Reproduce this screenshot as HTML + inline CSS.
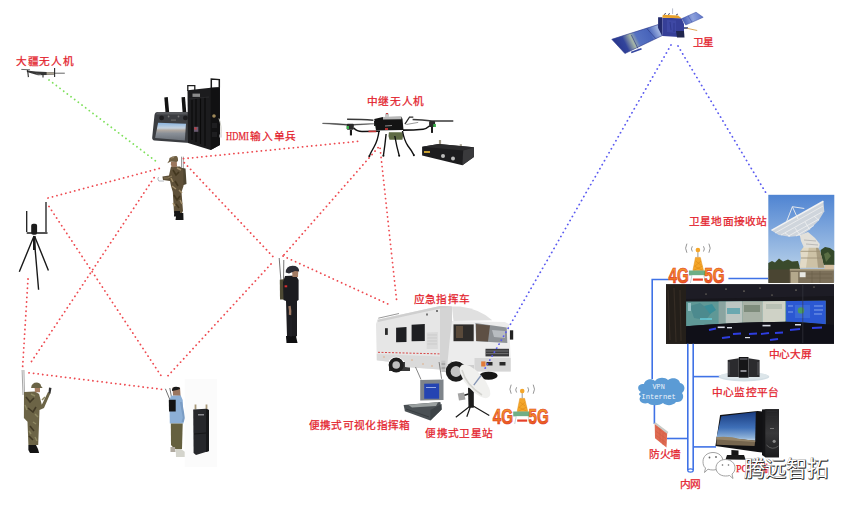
<!DOCTYPE html>
<html lang="zh-CN">
<head>
<meta charset="utf-8">
<style>
html,body{margin:0;padding:0;background:#fff;}
body{width:855px;height:505px;overflow:hidden;position:relative;font-family:"Liberation Serif",serif;}
svg{position:absolute;left:0;top:0;}
.t{position:absolute;color:#e3232d;font-size:11.3px;line-height:12px;white-space:nowrap;font-family:"Liberation Serif",serif;-webkit-text-stroke:0.25px #e3232d;}
</style>
</head>
<body>
<svg width="855" height="505" viewBox="0 0 855 505">
<defs>
 <linearGradient id="sky" x1="0" y1="0" x2="0" y2="1">
  <stop offset="0" stop-color="#4f84d2"/>
  <stop offset="0.75" stop-color="#a9c6e6"/>
  <stop offset="1" stop-color="#c0d4ea"/>
 </linearGradient>
 <linearGradient id="pcsky" x1="0" y1="0" x2="0" y2="1">
  <stop offset="0" stop-color="#1a3c80"/>
  <stop offset="0.55" stop-color="#3f70b8"/>
  <stop offset="0.9" stop-color="#8fb2d8"/>
  <stop offset="1" stop-color="#c4d6e6"/>
 </linearGradient>
 <linearGradient id="g45grad" x1="0" y1="0" x2="0" y2="1">
  <stop offset="0" stop-color="#f5a030"/>
  <stop offset="0.5" stop-color="#f08426"/>
  <stop offset="1" stop-color="#e2381c"/>
 </linearGradient>

<!-- 4G/5G icon definition -->
<g id="g45">
 <g fill="none" stroke="#8a8a8a" stroke-width="0.9" stroke-linecap="round">
  <path d="M-11.2 -23.2 Q-13.6 -19 -11.2 -14.8"/>
  <path d="M-5.8 -20.6 Q-7.4 -18.3 -5.8 -16"/>
  <path d="M5.8 -20.6 Q7.4 -18.3 5.8 -16"/>
  <path d="M11.2 -23.2 Q13.6 -19 11.2 -14.8"/>
 </g>
 <path d="M0 -15 L0 -10" stroke="#8a8a8a" stroke-width="0.9"/>
 <circle cx="0" cy="-17.1" r="2.3" fill="#f4a62a"/>
 <path d="M-2.4 -9.8 L2.4 -9.8 L5.6 3.3 L-5 3.3 Z" fill="#f4a62a" stroke="#e08a10" stroke-width="0.5"/>
 <path d="M-2 -6 L3 -2 M3 -6 L-3 -1 M-3.5 -1 L4.5 3 M4.5 -1 L-4 3" stroke="#d98410" stroke-width="0.5"/>
 <rect x="-9" y="3.3" width="16.2" height="4.9" fill="#6fae86"/>
 <rect x="-6" y="8.2" width="12" height="7.6" fill="#fff"/>
 <rect x="-5" y="11.3" width="10" height="2.2" fill="#e5402a"/>
 <path d="M-6 8.2 L-7.5 15.8 M6 8.2 L7.5 15.8" stroke="#9aa0b0" stroke-width="0.5"/>
 <g font-family="Liberation Sans" font-weight="bold" font-size="22.4" fill="url(#g45grad)" stroke="#e0341c" stroke-width="0.7">
  <text transform="translate(-29.4 16.2) scale(0.68 1)">4G</text>
  <text transform="translate(6.4 16.2) scale(0.68 1)">5G</text>
 </g>
</g>
 <linearGradient id="panelL" x1="612" y1="42" x2="662" y2="17.7" gradientUnits="userSpaceOnUse">
  <stop offset="0" stop-color="#26338a"/>
  <stop offset="0.2" stop-color="#33459c"/>
  <stop offset="0.34" stop-color="#a6b6a6"/>
  <stop offset="0.44" stop-color="#5672c2"/>
  <stop offset="0.68" stop-color="#4864ba"/>
  <stop offset="0.84" stop-color="#9cb0de"/>
  <stop offset="1" stop-color="#6a86d0"/>
 </linearGradient>
 <linearGradient id="panelR" x1="682" y1="20" x2="703" y2="14" gradientUnits="userSpaceOnUse">
  <stop offset="0" stop-color="#4258b4"/>
  <stop offset="0.5" stop-color="#8ea2dc"/>
  <stop offset="1" stop-color="#5a72c8"/>
 </linearGradient>
 <linearGradient id="ctrlscr" x1="0" y1="0" x2="0" y2="1">
  <stop offset="0" stop-color="#8ab4e0"/>
  <stop offset="0.3" stop-color="#c4d2e0"/>
  <stop offset="0.42" stop-color="#b0a8a0"/>
  <stop offset="0.6" stop-color="#8a9098"/>
  <stop offset="1" stop-color="#6a7078"/>
 </linearGradient>
 <linearGradient id="tower" x1="0" y1="0" x2="0" y2="1">
  <stop offset="0" stop-color="#222224"/>
  <stop offset="0.5" stop-color="#38383a"/>
  <stop offset="1" stop-color="#1c1c1e"/>
 </linearGradient>
</defs>

<!-- ============ RIGHT SIDE ============ -->
<!-- ground station photo -->
<g>
 <rect x="768.3" y="194.8" width="66" height="87.6" fill="url(#sky)"/>
 <!-- trees -->
 <path d="M768.3 263 L772 261 L775 262.5 L779 258.5 L783 261.5 L788 259.5 L792 261.5 L798 261 L800 268 L800 270 L768.3 270 Z" fill="#3a4a2c"/>
 <path d="M820.7 250 L825 247 L830 248 L834.3 251 L834.3 265 L820 265 Z" fill="#34482a"/>
 <path d="M824 254 L828 252 L831 256 L826 262 Z" fill="#5a6e44"/>
 <!-- base -->
 <rect x="768.3" y="269.5" width="22" height="13.5" fill="#4a4532"/>
 <rect x="789.8" y="269.7" width="44.1" height="13.3" fill="#7c705a"/>
 <rect x="789.8" y="268.8" width="44.1" height="1.8" fill="#a89c80"/>
 <rect x="790.8" y="272" width="7.4" height="11" fill="#b4a88c"/>
 <rect x="799.7" y="272.2" width="5.9" height="5" fill="#e8e8e4"/>
 <rect x="824.5" y="264.8" width="9.4" height="4.4" fill="#d4bea0"/>
 <path d="M806 274 L832 274 M806 278 L832 278 M812 271 L812 283 M820 271 L820 283" stroke="#6a5e48" stroke-width="0.6"/>
 <!-- pedestal -->
 <path d="M804.3 245.9 L817 245.9 L820 251.3 L822 258 L824.3 267.7 L799.7 267.7 L801 258 L800.5 251.3 Z" fill="#cdc2a6"/>
 <path d="M804.3 245.9 L809 245.9 L806 267.7 L799.7 267.7 L801 258 L800.5 251.3 Z" fill="#e2dac6"/>
 <path d="M816 248 L817 245.9 L820 251.3 L822 258 L824.3 267.7 L818 267.7 Z" fill="#a89c80"/>
 <path d="M800.5 251.3 L820 251.3 M801 258 L822 258" stroke="#9a8e74" stroke-width="0.8"/>
 <!-- yoke -->
 <path d="M799.7 234.9 L808 232 L815 238 L819.8 244 L819 247.7 L804 247.7 L801 241 Z" fill="#e2e0da"/>
 <path d="M804 240 L816 241 M806 244 L818 245" stroke="#a8a8a8" stroke-width="0.7"/>
 <!-- dish -->
 <path d="M771.5 230.4 L823.4 201.2 L824.3 211.2 L818.9 220.3 L809.7 229.5 L800.6 235.8 L789.7 236.7 L778.8 234.9 Z" fill="#cfd5dc"/>
 <path d="M771.5 230.4 L823.4 201.2" stroke="#f2f2f2" stroke-width="1.6"/>
 <path d="M775 233 L823 206 M781 235 L822 212 M788 236.3 L819 219 M796 236 L814 225.5 M785 233 L790 236.5 M795 228 L800.6 235.8 M805 222 L809.7 229.5 M814 216 L818.9 220.3" stroke="#f4f4f4" stroke-width="0.7" fill="none"/>
 <path d="M786 223 L792.4 206.7 L804.3 208.5 M792.4 206.7 L798 219" stroke="#eeeeee" stroke-width="0.9" fill="none"/>
</g>
<!-- control centre photo -->
<g>
 <rect x="666" y="284.3" width="168" height="59.5" fill="#17161c"/>
 <rect x="666" y="284.3" width="20" height="59.5" fill="#241f1a"/>
 <path d="M668 290 L670 340 M674 288 L676 342 M680 290 L681 341" stroke="#352c24" stroke-width="1.2"/>
 <path d="M686 284.3 L834 284.3 L834 296 L686 299 Z" fill="#1d1c25"/>
 <g fill="#d8d0b0"><circle cx="726" cy="289" r="0.6"/><circle cx="744" cy="291" r="0.6"/><circle cx="760" cy="288" r="0.5"/><circle cx="796" cy="290" r="0.6"/><circle cx="814" cy="287" r="0.5"/><circle cx="706" cy="294" r="0.5"/><circle cx="772" cy="295" r="0.5"/></g>
 <path d="M686.1 301.6 L825.6 300.8 L825.6 324.5 Q805 322 785.3 321.8 Q740 322 686.1 326.2 Z" fill="#5f9896"/>
 <path d="M690 306 L700 303 L712 312 L706 320 L694 318 Z" fill="#4c8a8e"/>
 <path d="M704 306 L712 304 L716 310 L710 314 Z" fill="#3b8e98"/>
 <path d="M688 303 L691 303 L691 311 L688 311 Z" fill="#9ac4c8"/>
 <path d="M718.6 301.4 L725.6 301.4 L725.6 323.5 L718.6 324 Z" fill="#8aa4a0"/>
 <path d="M725.6 301.4 L742.3 301.3 L742.3 322.8 L725.6 323.5 Z" fill="#bcc6c2"/>
 <path d="M727 308 L740 308 L740 314 L727 314 Z" fill="#6aa8b0"/>
 <path d="M742.3 301.3 L762.5 301.2 L762.5 322.2 L742.3 322.8 Z" fill="#a8b2a6"/>
 <path d="M744 305 L760 305 L760 312 L744 312 Z" fill="#7e8c7c"/>
 <path d="M762.5 301.2 L785.3 301 L785.3 321.8 L762.5 322.2 Z" fill="#cfd2c6"/>
 <path d="M766 304 L782 304 L782 309 L766 309 Z" fill="#b8c0b4"/>
 <path d="M786.1 301 L825.6 300.8 L825.6 324.5 Q806 322 786.1 321.8 Z" fill="#2b58d2"/>
 <path d="M795 305 L810 305 L810 318 L795 318 Z" fill="#3a6ad8"/>
 <circle cx="801" cy="310.4" r="3.2" fill="#4a9a62"/>
 <path d="M814 306 L823 306 M814 310 L823 310 M814 314 L822 314 M788 306 L793 306 M788 312 L793 312" stroke="#9ab8f0" stroke-width="0.8"/>
 <path d="M700 319 L712 319" stroke="#6ad0e0" stroke-width="1.4"/>
 <path d="M686.1 326.2 Q740 322 785.3 321.8 Q805 322 834 325 L834 343.8 L686 343.8 Z" fill="#101018"/>
 <g stroke="#2e3ee0" stroke-width="1.8" fill="none">
  <path d="M709 330 L716 328.5"/><path d="M733 334 L741 333.5"/><path d="M749 334 L757 333.5"/><path d="M761 334 L769 333"/><path d="M775 333 L783 332.5"/><path d="M790 330 L800 329"/><path d="M812 328 L822 327.5"/><path d="M722 338 L730 337"/><path d="M770 340 L778 339"/>
 </g>
 <g fill="#d8dce6"><rect x="717.7" y="326.5" width="7" height="1.6"/><rect x="727" y="327" width="5" height="1.4"/><rect x="762.5" y="324.8" width="8" height="1.6"/><rect x="795" y="324" width="6" height="1.5"/><rect x="745" y="337" width="5" height="1.2"/></g>
 <path d="M802.8 285 L802.8 343" stroke="#3a3a44" stroke-width="0.6"/>
</g>
<!-- network lines -->
<g stroke="#3f72e6" stroke-width="1.6" fill="none">
 <path d="M668.5 279.5 L652.2 279.5 L652.2 379"/>
 <path d="M654.4 403 L654.4 424"/>
 <path d="M728.4 278.5 L768 278.5"/>
 <path d="M687.8 343.8 L687.8 470.5 M693.2 343.8 L693.2 470.5"/>
 <path d="M693.2 376.6 L720 376.6"/>
 <path d="M667 438.5 L687.8 438.5"/>
 <path d="M693.2 446.9 L716 446.9"/>
</g>
<ellipse cx="690.5" cy="470.5" rx="2.7" ry="1.6" fill="#fff" stroke="#3f72e6" stroke-width="1.2"/>
<!-- cloud -->
<path d="M641 392 C636 389 638 383 644 384 C645 379 652 378 655 381 C658 377 665 377 668 380 C672 377 679 378 680 383 C685 384 686 390 682 393 C685 397 682 403 676 402 C673 406 666 406 663 403 C659 406 651 406 648 403 C642 405 637 400 641 396 C638 395 639 393 641 392 Z" fill="#5b9bd5"/>
<text x="658.6" y="389.2" font-family="Liberation Mono" font-size="8" fill="#eef3fa" text-anchor="middle" transform="translate(658.6 389.2) scale(0.85 1) translate(-658.6 -389.2)">VPN</text>
<text x="658.6" y="398.6" font-family="Liberation Mono" font-size="8" fill="#eef3fa" text-anchor="middle" transform="translate(658.6 398.6) scale(0.9 1) translate(-658.6 -398.6)">Internet</text>
<!-- firewall -->
<path d="M654.7 423.7 L667.2 433 L666.5 447.5 L655 438.2 Z" fill="#df6a52"/>
<path d="M656 427 L666.5 435 M655.5 431 L666.5 439 M655.5 435 L666.5 443 M660 426.5 L660 441 M663 433 L663 445" stroke="#c85840" stroke-width="0.4"/>
<path d="M653.8 423.2 L655.5 422.2 L668.4 432 L667.2 433.8 Z" fill="#c8ccc8"/>
<!-- server -->
<ellipse cx="744" cy="376.8" rx="25.3" ry="4.6" fill="#d3dee4"/>
<ellipse cx="744" cy="376" rx="24" ry="3.6" fill="#dde6ea"/>
<path d="M727.7 360 L738.8 358.3 L738.8 377 L727.7 377 Z" fill="#2b2b2e"/>
<path d="M748.5 358.3 L759.6 360 L759.6 377 L748.5 377 Z" fill="#2b2b2e"/>
<path d="M738.8 357 L748.5 357 L748.5 377.7 L738.8 377.7 Z" fill="#161618"/>
<path d="M729 362 L729 375 M758 362 L758 375" stroke="#5a5a5e" stroke-width="1"/>
<rect x="740.5" y="370" width="6" height="2" fill="#8a8a90"/>
<rect x="740" y="358" width="7.5" height="2" fill="#4a4a50"/>
<!-- PC -->
<path d="M762 409.5 L765.3 409.2 L779 409.2 L779 457.3 L765.3 457.3 L762 455 Z" fill="#141416"/>
<path d="M765.3 409.2 L779 409.2 L779 457.3 L765.3 457.3 Z" fill="url(#tower)"/>
<path d="M767 411.5 L777 411.5 M767 414 L777 414 M767 416.5 L777 416.5" stroke="#2e2e30" stroke-width="0.6"/>
<path d="M766.5 445 Q772 451 778.5 446" stroke="#6a6a6a" stroke-width="0.8" fill="none"/>
<circle cx="774.2" cy="441.3" r="1.6" fill="#8a8a8a"/>
<rect x="770" y="428" width="4" height="1" fill="#777"/>
<path d="M720.1 415.1 L757.6 411 L762.3 411.5 L762.3 452.5 L757.6 452 L715.4 446 Z" fill="#111113"/>
<path d="M721.3 416.3 L755.8 412.1 L755.2 440.7 L716.6 437.1 Z" fill="url(#pcsky)"/>
<path d="M716.6 437.1 L755.2 440.7 L754.6 446 L716.5 444.8 Z" fill="#76664f"/>
<path d="M716.6 437.1 Q730 436 740 439 L755.2 440.7 L755.2 442 L716.6 439.5 Z" fill="#958468"/>
<path d="M731.4 450 L738.5 450.5 L738.5 455.5 L731.4 455.5 Z" fill="#151515"/>
<path d="M727 455 L744 455 L745.7 459.7 L725.5 459.5 Z" fill="#1a1a1a"/>
<!-- wechat watermark icon -->
<g fill="#fff" stroke="#8a8a8a" stroke-width="0.8">
 <path d="M713 452.5 C719 452.5 723 456.5 723 461.5 C723 466.5 718.5 470 713 470 C711 470 709.5 469.7 708 469.2 L704.5 472.5 L705.5 468 C703.5 466.5 703 464 703 461.5 C703 456.5 707 452.5 713 452.5 Z"/>
 <path d="M725.5 459.5 C731 459.5 735 463.2 735 467.8 C735 470.5 734 472.5 732 474 L733 478.5 L729.5 475.5 C728.3 475.9 727 476 725.5 476 C720 476 716 472.4 716 467.8 C716 463.2 720 459.5 725.5 459.5 Z"/>
</g>
<g fill="#666"><circle cx="709.5" cy="457.5" r="0.9"/><circle cx="716" cy="457" r="0.9"/><circle cx="722.5" cy="465" r="0.8"/><circle cx="728.5" cy="465" r="0.8"/></g>


<!-- truck -->
<g>
 <!-- rear wheel -->
 <path d="M389 362 L410 362 L410 371 L389 371 Z" fill="#3a3a3a"/>
 <circle cx="396.2" cy="365" r="7.6" fill="#1e1e1e"/>
 <circle cx="396.2" cy="365" r="3.8" fill="#c0c0c0"/>
 <!-- box -->
 <path d="M377.5 319.8 L440 306 L452 306.5 L452 369.5 L440 369.5 L405 367 L405 362 Q397 352 389 360 L389 361.8 L376.8 360.2 L376 324 Z" fill="#e6e6e6"/>
 <path d="M440 306 L452 306.5 L452 369.5 L440 369.5 Z" fill="#d4d4d4"/>
 <path d="M377.5 319.8 L440 306 L452 306.5 L440.5 308.5 L378 322 Z" fill="#cfcfcf"/>
 <path d="M376.8 354 L440 356.5 L440 369.5 L405 367 L405 362 Q397 352 389 360 L389 361.8 L376.8 360.2 Z" fill="#dadada"/>
 <path d="M378.3 318.2 L399 313.5" stroke="#9a9a9a" stroke-width="1"/>
 <path d="M378 352.3 L440 353.9" stroke="#d84848" stroke-width="1" stroke-dasharray="2 1.5"/>
 <g fill="#e0a070"><circle cx="384" cy="357" r="0.7"/><circle cx="423" cy="364" r="0.7"/><circle cx="432" cy="366" r="0.7"/><circle cx="412" cy="360" r="0.7"/></g>
 <rect x="385" y="328.2" width="2.8" height="6.7" fill="#2b2b2b"/>
 <path d="M396.1 327.7 L406.5 327 L406.5 342 L396.1 342.3 Z" fill="#1e1f22"/>
 <path d="M411.6 324.8 L424.8 324 L424.8 340.9 L411.6 341.2 Z" fill="#1e1f22"/>
 <path d="M426.7 332.5 L437.8 332 L437.8 349.1 L426.7 349.1 Z" fill="#dadada"/>
 <path d="M427.5 335 L437 335 M427.5 338 L437 338 M427.5 341 L437 341 M427.5 344 L437 344" stroke="#c4c4c4" stroke-width="0.7"/>
 <rect x="426" y="313.5" width="2" height="2" fill="#777"/><rect x="436" y="310" width="2" height="2" fill="#777"/>
 <!-- cab fairing -->
 <path d="M452 306.5 L460 306.5 Q480 309 492.2 320.2 L453.5 321 Z" fill="#e0e0e0"/>
 <!-- cab -->
 <path d="M452 321 L504.8 321.9 L509 324 L510.7 358 L510.7 371.5 L474.5 371.5 L466 370 Q463 360 456 360 Q449 360 447 368 L449.6 341 Z" fill="#ececec"/>
 <path d="M453.5 324.4 L473.7 324.4 L473.7 341.2 L453.5 341.2 Z" fill="#2e2c2a"/>
 <path d="M456 326 L463 326 L463 338 L456 338 Z" fill="#5a4a3a"/>
 <path d="M475.4 323 L506.7 327.5 L507.3 342.9 L476.2 341.2 Z" fill="#8e9296"/>
 <path d="M476 324 L490 325.5 L488 341.5 L476.2 341 Z" fill="#5e5044"/>
 <path d="M492 330 L505 331 L505 338 L494 337 Z" fill="#b8bcc0"/>
 <path d="M509.9 330.3 L513.2 330.3 L513.2 339.6 L509.9 339.6 Z" fill="#222"/>
 <path d="M485.5 348.8 L509 348.8 L509 356.4 L485.5 356.4 Z" fill="#3a3a3c"/>
 <path d="M486 351 L508.5 351 M486 353.6 L508.5 353.6" stroke="#9a9a9a" stroke-width="0.6"/>
 <path d="M474.5 358.1 L510.7 358.1 L510.7 371.5 L474.5 371.5 Z" fill="#d6d6d6"/>
 <rect x="481.2" y="361.4" width="4.3" height="5.1" fill="#e07a3a"/>
 <rect x="486.5" y="362" width="6" height="3.5" fill="#2a2a2a"/>
 <rect x="499.5" y="362" width="6" height="3.5" fill="#2a2a2a"/>
 <path d="M466 365 L474 365 L474 371 L466 371 Z" fill="#cfcfcf"/>
 <!-- wheels -->
 <circle cx="456" cy="371.5" r="10.3" fill="#1c1c1c"/>
 <circle cx="456" cy="371.5" r="5.4" fill="#c4c4c4"/>
 <ellipse cx="488.6" cy="375.7" rx="9" ry="4" fill="#161616"/>
 <!-- steps -->
 <path d="M441.3 360.6 L445.4 360.6 L445.4 372 L441.3 372 Z" fill="#c4c4c4"/>
 <path d="M441.5 364 L445.2 364 M441.5 368 L445.2 368" stroke="#666" stroke-width="0.6"/>
</g>


<!-- portable command box -->
<g>
 <path d="M415.5 367 L421 379.5 M439.1 362 L441.6 378.8" stroke="#666" stroke-width="0.8"/>
 <path d="M420.2 380.1 L443.5 379.5 L443.5 400 L420.2 400.5 Z" fill="#7e848a"/>
 <path d="M424.2 383.8 L439.1 383.6 L439.1 398.8 L424.2 398.8 Z" fill="#2444b2"/>
 <path d="M426 387.5 L436 387.5" stroke="#b8c8f0" stroke-width="0.8"/>
 <path d="M403.6 405 L440.4 401.9 L441.6 409.4 L430.4 420.6 L404.9 411.3 Z" fill="#4a5054"/>
 <path d="M408 404.8 L438 402.3 L436 406 L412 407.5 Z" fill="#9aa0a0"/>
 <path d="M430.4 410 L441.6 404 L441.6 409.4 L430.4 420.6 Z" fill="#3c4246"/>
 <path d="M406 409 L429 417" stroke="#33383c" stroke-width="0.8"/>
</g>
<!-- portable satellite -->
<g>
 <path d="M471.5 405 L455.8 417.3 M471.5 405 L489.3 415.4 M471 405 L466.8 416.7" stroke="#1a1a1a" stroke-width="1.2"/>
 <path d="M468 387.7 L473.8 387.7 L473.8 407.7 L468.5 407.7 Z" fill="#1c1c1c"/>
 <path d="M468.5 394 L462 396" stroke="#1c1c1c" stroke-width="1.5"/>
 <path d="M457.7 393.5 L464 392.5 L465.5 399.5 L459 400.5 Z" fill="#a4a4a4"/>
 <ellipse cx="475" cy="381.3" rx="21" ry="8.6" transform="rotate(48.8 475 381.3)" fill="#f0f0ee"/>
 <path d="M462 370 Q466 385 482 395" stroke="#d4d4d0" stroke-width="1.6" fill="none"/>
 <path d="M481 375.5 L473.8 385.1" stroke="#8494b4" stroke-width="1.3"/>
</g>
<!-- relay drone -->
<g>
 <!-- props -->
 <path d="M322.6 123.1 Q336 123.2 350 124.6 Q362 123.6 374.1 123.8 L350 125.4 Q336 124.6 322.6 123.5 Z" fill="#2a2a2a" stroke="#555" stroke-width="0.5"/>
 <path d="M347.1 119.2 Q362 119.2 373.4 120.3" stroke="#3a3a3a" stroke-width="1.5" fill="none"/>
 <path d="M412.6 119.6 Q422 120 432 121 Q443 121 453.3 121" stroke="#3a3a3a" stroke-width="1.5" fill="none"/>
 <path d="M406.3 124.5 L418.2 122.4" stroke="#9a9a9a" stroke-width="1" fill="none"/>
 <!-- motors -->
 <rect x="346.8" y="123.8" width="7" height="6" rx="1" fill="#2a2a2a"/>
 <rect x="346.6" y="126" width="2.4" height="3" fill="#3ab04a"/>
 <rect x="349.9" y="129.8" width="2.1" height="5.6" fill="#1a1a1a"/>
 <rect x="429.1" y="121" width="6" height="6" rx="1" fill="#2a2a2a"/>
 <rect x="433.3" y="124" width="2.6" height="3" fill="#3ab04a"/>
 <rect x="431" y="127" width="2" height="5.9" fill="#1a1a1a"/>
 <rect x="374" y="121" width="4" height="5" fill="#2a2a2a"/>
 <rect x="375.5" y="123.8" width="2" height="2.4" fill="#3ab04a"/>
 <!-- arms -->
 <path d="M353.8 128 Q357 131.5 362 131.5 L380 131.3" stroke="#111" stroke-width="1.6" fill="none"/>
 <path d="M368.5 131.4 L376.2 131.4" stroke="#c83232" stroke-width="1.6"/>
 <path d="M429.5 126 Q426 129 423.2 129.2 Q414 130 403 130.1" stroke="#111" stroke-width="1.6" fill="none"/>
 <!-- body -->
 <path d="M374.2 119 L382.9 117 L401.4 116.8 L402.5 119 L403.5 130 L376 130.5 Z" fill="#141414"/>
 <path d="M382.9 117 L401.4 116.8 L401.4 119.2 L383 119.4 Z" fill="#b8b8b8"/>
 <path d="M385 113.5 L389 113.5 L389 117 L385 117 Z" fill="#c8c8c8"/>
 <rect x="386" y="113" width="2" height="1.2" fill="#c04040"/>
 <path d="M385 126 L392 125.5" stroke="#aaa" stroke-width="0.8"/>
 <rect x="385" y="128" width="3" height="2" fill="#b03030"/>
 <path d="M404.9 124.1 L409.5 117.1 L413.3 117.1" stroke="#2a2a2a" stroke-width="1.2" fill="none"/>
 <!-- battery -->
 <path d="M388.9 132.2 L402.5 132.2 Q403.5 136 402.5 139.8 L389.5 139.8 Q387.8 136 388.9 132.2 Z" fill="#5f6b45"/>
 <!-- legs -->
 <path d="M379 131 Q378 140 374 147 Q371 152 369.3 156.2 M386.1 134 Q385 145 383.4 155.6 M394.8 136 Q396.5 146 399.2 155.6 M402.5 131 Q404 140 408 146 Q412 151 413.9 155.1" stroke="#111" stroke-width="1.4" fill="none"/>
 <g fill="#111"><circle cx="369.3" cy="156.2" r="1"/><circle cx="383.4" cy="155.8" r="1"/><circle cx="399.2" cy="155.8" r="1"/><circle cx="413.9" cy="155.3" r="1"/></g>
</g>
<!-- ground control box -->
<g>
 <path d="M440 140 L440 146 M460.8 144.3 L460.8 150.9" stroke="#a09a88" stroke-width="2.2"/>
 <path d="M422.1 146.8 L438.7 143.9 L473.9 147.2 L473.9 157 L462.4 165.2 L422.1 155.4 Z" fill="#1d1d1f"/>
 <path d="M438.7 143.9 L473.9 147.2 L463.2 150.5 L422.1 146.8 Z" fill="#2b2b2d"/>
 <path d="M463.2 150.5 L473.9 147.2 L473.9 157 L462.4 165.2 Z" fill="#3a3a3c"/>
 <circle cx="443" cy="156" r="2" fill="#bbb"/><circle cx="453" cy="158.5" r="2" fill="#bbb"/>
 <rect x="424" y="151" width="6" height="2" fill="#c8a030"/>
</g>

<use href="#g45" transform="translate(522.2 408.2)"/>
<use href="#g45" transform="translate(697.9 267.2)"/>

<!-- satellite -->
<g>
 <path d="M611.8 39.3 L658.1 24.6 L662.4 35.5 L624.9 53.5 Z" fill="url(#panelL)" stroke="#26348a" stroke-width="0.6"/>
 <path d="M631.4 35 L638 48.6 M646.7 28.4 L655.9 38.8" stroke="#2a3580" stroke-width="0.6"/>
 <path d="M630.9 51.8 L641.2 48 L641.8 49.5 L631.5 53.2 Z" fill="#3446a0"/>
 <path d="M681.9 18.6 L696 12.2 L703.2 17.3 L685.7 25 Z" fill="url(#panelR)" stroke="#3548a0" stroke-width="0.5"/>
 <path d="M688 15.7 L692 22.2" stroke="#3a4ca0" stroke-width="0.5"/>
 <path d="M658.1 17.3 L662.3 17.3 L662.3 36 L658.1 28 Z" fill="#232a6c"/>
 <path d="M662.3 17.7 L681.5 18.2 L684 24 L684 34 L679.4 36.9 L662.3 36 Z" fill="#363f98"/>
 <path d="M667 20 L676 20.5 L676 33 L667 32 Z" fill="#3e48a4"/>
 <path d="M670 22 L671 30 M674 23 L674 32" stroke="#2a3386" stroke-width="0.7"/>
 <path d="M662.8 14.8 L678.1 15.6 L681.5 18.2 L662.3 17.7 Z" fill="#e9a22c"/>
 <path d="M664 14.6 L666 13.3 M668 14.6 L670 13.5 M676 15 L678 14" stroke="#2a2a50" stroke-width="0.8"/>
 <path d="M672.6 8.4 L672.6 14" stroke="#8890a8" stroke-width="0.6"/>
 <path d="M676 31 L684 31 L684.5 37.5 L677 37.5 Z" fill="#20264e"/>
 <path d="M684 28 L688 28" stroke="#30386a" stroke-width="1.5"/>
 <path d="M687.4 28.4 L697.2 30.5" stroke="#d8a048" stroke-width="0.9"/>
</g>


<!-- ============ LEFT / MIDDLE ============ -->
<!-- small DJI drone -->
<g>
 <path d="M21.3 69.4 L30 69.8 M54.3 73.2 L64.8 73.2" stroke="#555" stroke-width="0.9"/>
 <path d="M26.6 70.6 L36 71.5 L46.6 72 L54.3 72.5 L54.3 74.6 L46 75 L38 75.3 L32 73.5 L27 72 Z" fill="#363636"/>
 <path d="M46.6 72 L54 72.4 L54 74.4 L46.6 74.8 Z" fill="#aaa292"/>
 <path d="M27.6 70 L28.4 77.1 M54.6 68 L54.6 77.1 M43 74 L43 77.4" stroke="#2a2a2a" stroke-width="1.1"/>
 <path d="M36 74 L41 74.5" stroke="#777" stroke-width="0.8"/>
</g>
<!-- controller -->
<g>
 <path d="M164.3 97.5 L167.8 97 L169.2 112.6 L165.5 112.6 Z" fill="#121212"/>
 <path d="M181.5 97.2 L185 97 L186.3 112.6 L182.6 112.6 Z" fill="#121212"/>
 <path d="M157.5 112 L191.5 112.3 Q193.5 112.5 193.3 115 L192.3 141 Q192 143 189.5 143 L154.5 140.5 Q152 140.2 152.2 137.5 L154.5 115 Q155 112 157.5 112 Z" fill="#3b3d41"/>
 <path d="M157.5 112 L191.5 112.3 L192.5 114.5 L156 114.5 Z" fill="#55575b"/>
 <path d="M158.1 122.7 L186 123.8 L184.8 140.5 L155.1 138.1 Z" fill="url(#ctrlscr)"/>
 <circle cx="161.6" cy="117.9" r="2.4" fill="#1c1c1e"/>
 <circle cx="185.4" cy="117.9" r="2.4" fill="#1c1c1e"/>
 <circle cx="168.6" cy="116.5" r="0.9" fill="#777"/><circle cx="178.5" cy="116.5" r="0.9" fill="#777"/>
 <rect x="171" y="119.5" width="5" height="1.2" fill="#666"/>
</g>
<!-- transmitter box -->
<g>
 <path d="M187.8 91 L187.8 85.6 L194.8 85.6 L194.8 90" fill="none" stroke="#1e1e1e" stroke-width="1.3"/>
 <path d="M211.3 88.5 L211.3 79 L219.3 79.6 L219.3 87.5" fill="none" stroke="#1a1a1a" stroke-width="1.5"/>
 <path d="M187.5 90.3 L210.7 87.8 L219.9 87.2 L219.9 145 L210.7 150 L188 143 Z" fill="#1c1c1e"/>
 <path d="M210.7 87.8 L219.9 87.2 L219.9 145 L210.7 150 Z" fill="#111112"/>
 <path d="M192 100 L192 140 M196 99 L196 142 M200.5 98 L200.5 144 M205 97 L205 146" stroke="#0a0a0a" stroke-width="1.1"/>
 <path d="M189 99 L209 97" stroke="#2c2c2e" stroke-width="0.8"/>
 <rect x="192.5" y="93.6" width="7.5" height="3.3" fill="#8c8c8c"/>
 <rect x="194" y="126.8" width="4.3" height="5" fill="#6a5a70"/>
 <rect x="194.5" y="127.5" width="2" height="2" fill="#c83838"/>
 <circle cx="214" cy="116" r="1.8" fill="#a08a5a"/>
 <rect x="212" y="123" width="5" height="5" fill="#1e1e20"/>
 <rect x="212" y="132" width="5" height="5" fill="#1e1e20"/>
 <path d="M219 118.5 Q222 126 220.7 136.8" stroke="#c8c8c0" stroke-width="1" fill="none"/>
 <rect x="219.5" y="134.5" width="2.5" height="3" fill="#e0e0e0"/>
</g>
<!-- soldier 1 -->
<g>
 <path d="M181.5 156.7 L181.5 169 M183.3 156.7 L183.3 169" stroke="#555" stroke-width="0.6"/>
 <path d="M158.5 177 Q157 179 158.8 181 L164 181" fill="none" stroke="#aab0b8" stroke-width="0.9"/>
 <path d="M180.5 167.8 L185.5 168.5 L186.5 184 L181 186 Z" fill="#4e4530"/>
 <path d="M171 166.4 L180 166.5 L183.3 170 L183.5 186 L181.5 192 L183 211 L182 213 L174 213 L172.8 192 L171 186 L170 181 L163 180 L162.4 176.5 L169 175.5 Z" fill="#5e5038"/>
 <path d="M173 170 L176 175 L179 172 M175 181 L178 186 M174 195 L177 200 L180 196 M176 204 L179 208" stroke="#43371f" stroke-width="1.6" fill="none"/>
 <path d="M177 168 L181 170 M172 186 L176 189 M179 190 L182 193 M173 203 L175 206 M180 200 L182 204 M171 178 L173 182" stroke="#a08c68" stroke-width="1.5" fill="none"/>
 <path d="M172 176 L168 178 L164 178" stroke="#8a7a58" stroke-width="1.2" fill="none"/>
 <path d="M171 161.5 L176.8 161.5 L177 166.8 L172.5 167.2 L170.8 165 Z" fill="#9a765c"/>
 <path d="M169.5 158 Q172.5 155.8 176.5 156 Q178.3 157 178 161 L176.5 162 L171 161.6 L167.3 163.3 L169 160.5 Z" fill="#6e5e42"/>
 <path d="M171 158 L174 157.5" stroke="#9a8866" stroke-width="1"/>
 <path d="M174.3 211 L180 211 L180 216.5 L174 216.5 Z M176.5 213 L183.3 213 L183.5 220 L175.5 220 Z" fill="#151515"/>
</g>
<!-- soldier 2 (black uniform) -->
<g>
 <path d="M279.2 258 L281 282 M283.8 260 L283.5 282" stroke="#3a3a3a" stroke-width="0.7"/>
 <path d="M279.8 279.7 L285 279 L285 299.5 L280 299.5 Z" fill="#4e4a34"/>
 <path d="M285 276 L296 275.5 L298.6 280 L298.6 300 L297 301 L297 336 L295 337 L287 337 L286 301 L283.5 300 L283 282 Z" fill="#1c1c20"/>
 <path d="M292 270 L298.3 270 L298 277 L292.5 277 Z" fill="#a37c64"/>
 <path d="M285.7 272.5 Q286 265.8 292.5 265.8 Q299.2 265.8 299.2 271.5 L295 271 L289 273.5 Z" fill="#2c2c34"/>
 <rect x="284.6" y="285.3" width="2.6" height="2" fill="#d83030"/>
 <path d="M286 336 L296 336 L297.5 343 L286.5 343 Z" fill="#0e0e10"/>
 <path d="M289.5 306 Q290.5 311 290 315" stroke="#a07a64" stroke-width="2.4" fill="none"/>
 <path d="M291 318 L291 337" stroke="#2a2a30" stroke-width="0.6"/>
</g>
<!-- soldier 3 (camo, arm raised) -->
<g>
 <path d="M22.1 370 L23 395 M23.9 370 L24.5 395" stroke="#6a6a6a" stroke-width="0.6"/>
 <path d="M24 392 L35 391.5 L39.1 394 L41.8 404.8 L48 392 L50.5 393 L44 408 L39.5 410 L39.1 421.8 L38.2 445 L28.4 445 L27.5 421.8 L23.9 418 Z" fill="#6c6446"/>
 <path d="M26 397 L30 402 L34 398 M28 408 L33 412 L36 407 M30 426 L34 431 M29 436 L33 440" stroke="#423a26" stroke-width="1.6" fill="none"/>
 <path d="M31 394 L35 396 M25 405 L27 410 M35 414 L38 417 M33 422 L36 424 M29 431 L31 434 M35 437 L37 441 M42 400 L45 397" stroke="#8e8862" stroke-width="1.5" fill="none"/>
 <path d="M49 387.5 L51.5 388 L50.5 393.5 L48.5 393 Z" fill="#333"/>
 <path d="M34.6 387 L40 387 L40 392.3 L35 392.3 Z" fill="#a67e62"/>
 <path d="M31.1 388 Q31.5 382.5 37 382.5 Q41 383 41 386 L42.7 387.9 L34 388 Z" fill="#6a6446"/>
 <path d="M28.4 445 L36 445 L38 449 L39.1 453 L30 453 L28.4 450 Z" fill="#141414"/>
</g>
<!-- soldier 4 (blue shirt) -->
<g>
 <path d="M165.4 388.8 L170 400 M169.8 388 L172 400" stroke="#333" stroke-width="0.7"/>
 <path d="M171 395.7 L180.5 395 L182.7 400 L183.5 423.5 L169.8 423.5 L169.5 400 Z" fill="#8cafd6"/>
 <path d="M168.8 399.7 L175.7 399.7 L175.7 411.6 L169 411.6 Z" fill="#141414"/>
 <path d="M181 402 L184 418 L182.5 422" stroke="#7a9cc4" stroke-width="2.2" fill="none"/>
 <path d="M170.8 423.5 L182.7 423.5 L182 449 L174.5 449 L171 445 Z" fill="#65603f"/>
 <path d="M172.5 387.4 L180 387.4 L180.5 395.5 L173 395.5 Z" fill="#9a7660"/>
 <path d="M172 391 Q171.5 387 176 386.8 Q180 386.8 180 389 L177 390 Z" fill="#1a1a1a"/>
 <path d="M175.7 449 L181 449 L186.6 453 L186.3 457 L176 457 Z" fill="#d4d4cc"/>
 <path d="M170.5 447 L175 447 L175.5 452 L170.5 452 Z" fill="#b0aaa0"/>
</g>
<!-- radio device -->
<g>
 <rect x="184.7" y="379" width="32.3" height="88" fill="#fbfbfb"/>
 <path d="M195.5 404.5 L195.5 409.6 M206.5 404.5 L206.5 409.6" stroke="#a89878" stroke-width="1.8"/>
 <path d="M193.2 409.6 L206 408.8 L209 410 L209 451 L196 455 L193.6 453 Z" fill="#26272b"/>
 <path d="M206 408.8 L209 410 L209 451 L206 452 Z" fill="#17181a"/>
 <path d="M194 434 L206 433" stroke="#111" stroke-width="0.8"/>
 <rect x="198" y="414" width="6" height="1.5" fill="#8a8a90"/>
</g>
<!-- tripod antenna -->
<g>
 <path d="M26.7 211 L26.7 232 M46 202 L46 232" stroke="#1e1e1e" stroke-width="1.3"/>
 <path d="M26.7 233 L47.5 233" stroke="#2a2a2a" stroke-width="1.6"/>
 <rect x="31.2" y="223.7" width="5.9" height="11" rx="2" fill="#1c1c1c"/>
 <path d="M34 236 L19.3 271.8 M34 236 L38.6 289.7 M34.5 236 L48.4 270.4" stroke="#1a1a1a" stroke-width="1.4"/>
 <path d="M33 236 L35.5 236 L35.5 250 L33 250 Z" fill="#1a1a1a"/>
</g>

<!-- dotted lines -->
<g fill="none" stroke-linecap="round" stroke-width="1.8" stroke-dasharray="0.1 4.5">
 <path stroke="#7de05a" d="M49 80 L157 162"/>
 <g stroke="#ee4a50">
  <path d="M183.5 158.7 L362 141"/>
  <path d="M184.3 162.7 L273.8 257.5"/>
  <path d="M378.1 147.6 L283.7 255.2"/>
  <path d="M271 264 L167.6 376.2"/>
  <path d="M283 256 L388 304"/>
  <path d="M380.1 148.3 L396.6 300.2"/>
  <path d="M48 198 L161 168"/>
  <path d="M49 206.5 L162.7 378.2"/>
  <path d="M154.1 177.7 L29.8 364"/>
  <path d="M28 279 L22.5 369"/>
  <path d="M29 372.8 L163 389.5"/>
 </g>
 <g stroke="#5a5af0">
  <path d="M671 45 L483 372"/>
  <path d="M678 46 L766 193"/>
 </g>
</g>
</svg>
<div class="t" style="left:16.2px;top:55.2px;font-size:10.7px;letter-spacing:0.65px">大疆无人机</div>
<div class="t" style="left:226px;top:130px;font-size:10.7px;letter-spacing:0.6px"><span style="display:inline-block;width:24.4px;font-family:'Liberation Serif',serif;font-size:11.5px;transform:scaleX(0.74);transform-origin:0 0;letter-spacing:0.1px">HDMI</span>输入单兵</div>
<div class="t" style="left:366.8px;top:95.2px;font-size:10.7px;letter-spacing:0.65px">中继无人机</div>
<div class="t" style="left:692.7px;top:35.8px;font-size:10.7px;letter-spacing:-0.5px">卫星</div>
<div class="t" style="left:688.8px;top:215.0px;font-size:10.7px;letter-spacing:0.25px">卫星地面接收站</div>
<div class="t" style="left:413.7px;top:293.0px;font-size:10.7px;letter-spacing:0.4px">应急指挥车</div>
<div class="t" style="left:308.7px;top:419.0px;font-size:10.7px;letter-spacing:0.35px">便携式可视化指挥箱</div>
<div class="t" style="left:425.4px;top:427.3px;font-size:10.7px;letter-spacing:0.35px">便携式卫星站</div>
<div class="t" style="left:768.6px;top:347.5px;font-size:10.7px;letter-spacing:-0.15px">中心大屏</div>
<div class="t" style="left:712.2px;top:386.0px;font-size:10.7px;letter-spacing:0.15px">中心监控平台</div>
<div class="t" style="left:648.8px;top:447.9px;font-size:10.7px;letter-spacing:-0.25px">防火墙</div>
<div class="t" style="left:679.7px;top:477.6px;font-size:10.7px;letter-spacing:-0.5px">内网</div>
<div class="t" style="left:736px;top:463px;font-size:10px">PC终端</div>
<div style="position:absolute;left:744px;top:455px;font-size:21.2px;line-height:28px;color:#fff;font-family:'Liberation Sans',sans-serif;text-shadow:0.9px 0.9px 0.3px #2e2e2e,-0.5px -0.4px 0.3px #666,0.5px -0.4px 0.3px #888,-0.5px 0.5px 0.3px #555;white-space:nowrap;">腾远智拓</div>
</body>
</html>
